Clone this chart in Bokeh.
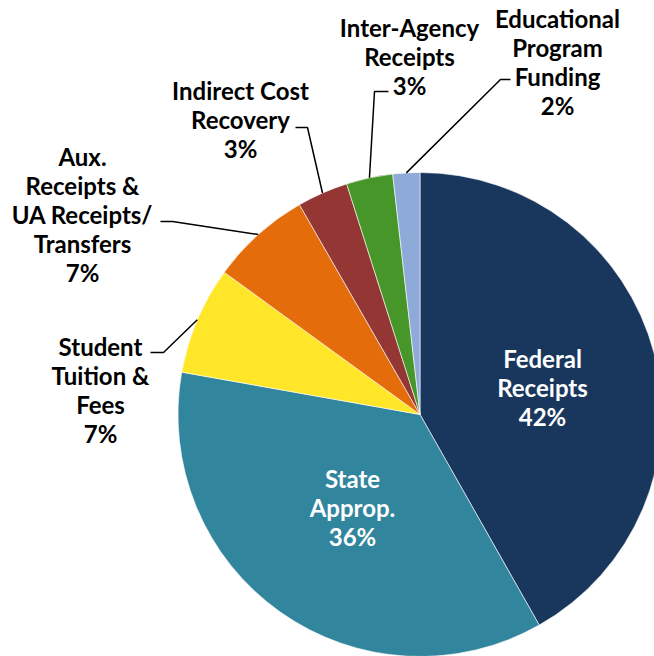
import math
from bokeh.plotting import figure
from bokeh.models import Range1d
from bokeh.core.properties import value
from bokeh.embed import file_html
from bokeh.resources import INLINE

# ---- data ----
categories = ["Federal Receipts", "State Approp.", "Student Tuition & Fees",
              "Aux. Receipts & UA Receipts/ Transfers", "Indirect Cost Recovery",
              "Inter-Agency Receipts", "Educational Program Funding"]
shares = [41.8, 36.0, 7.2, 6.7, 3.4, 3.1, 1.8]
label_lines = [["Federal", "Receipts"], ["State", "Approp."],
               ["Student", "Tuition &", "Fees"],
               ["Aux.", "Receipts &", "UA Receipts/", "Transfers"],
               ["Indirect Cost", "Recovery"], ["Inter-Agency", "Receipts"],
               ["Educational", "Program", "Funding"]]
colors = ["#19375d", "#31859c", "#ffe629", "#e46c0a", "#943634", "#46962a", "#8eaad8"]

W, H = 654, 656
CX, CY_IMG, R = 419.5, 414, 242
FONT = "Lato"
FS = "24px"
LH = 29


def fy(y_img):
    return H - y_img


p = figure(width=W, height=H, output_backend="svg", toolbar_location=None,
           x_range=Range1d(0, W), y_range=Range1d(0, H),
           x_axis_location=None, y_axis_location=None, min_border=0)
p.grid.visible = False
p.outline_line_color = None
p.background_fill_color = "white"
p.border_fill_color = "white"

total = sum(shares)
cum = 0.0
starts, ends, mids = [], [], []
for s in shares:
    a0 = cum / total * 2 * math.pi
    cum += s
    a1 = cum / total * 2 * math.pi
    starts.append(math.pi / 2 - a0)
    ends.append(math.pi / 2 - a1)
    mids.append((a0 + a1) / 2)

p.wedge(x=[CX] * len(shares), y=[fy(CY_IMG)] * len(shares), radius=R,
        start_angle=starts, end_angle=ends, direction="clock",
        fill_color=colors, line_color="white", line_width=0.6)

pct = [f"{round(s / total * 100)}%" for s in shares]

# label centres (image coords) and leader elbows
inside = {0: (542, 358, "white"), 1: (352, 478, "white")}
outside = {2: (100, 346), 3: (82, 156), 4: (240, 90), 5: (409, 27), 6: (557, 18)}
elbows = {2: [(163, 352), (150, 352)], 3: [(172, 221), (160, 221)],
          4: [(307, 127), (295, 127)], 5: [(374, 91), (388, 91)],
          6: [(500, 79), (510, 79)]}


def draw_label(i, x, y0, color):
    lines = label_lines[i] + [pct[i]]
    xs = [x] * len(lines)
    ys = [fy(y0 + k * LH) for k in range(len(lines))]
    p.text(x=xs, y=ys, text=lines, text_font=value(FONT), text_font_size=FS,
           text_font_style="bold", text_color=color, text_align="center",
           text_baseline="middle")


for i, (x, y0, c) in inside.items():
    draw_label(i, x, y0, c)
for i, (x, y0) in outside.items():
    draw_label(i, x, y0, "black")
    m = mids[i]
    sx = CX + R * math.sin(m)
    sy = CY_IMG - R * math.cos(m)
    pts = [(sx, sy)] + elbows[i]
    p.line([q[0] for q in pts], [fy(q[1]) for q in pts], line_color="black",
           line_width=1.5)

open("out.html", "w").write(file_html(p, INLINE))
